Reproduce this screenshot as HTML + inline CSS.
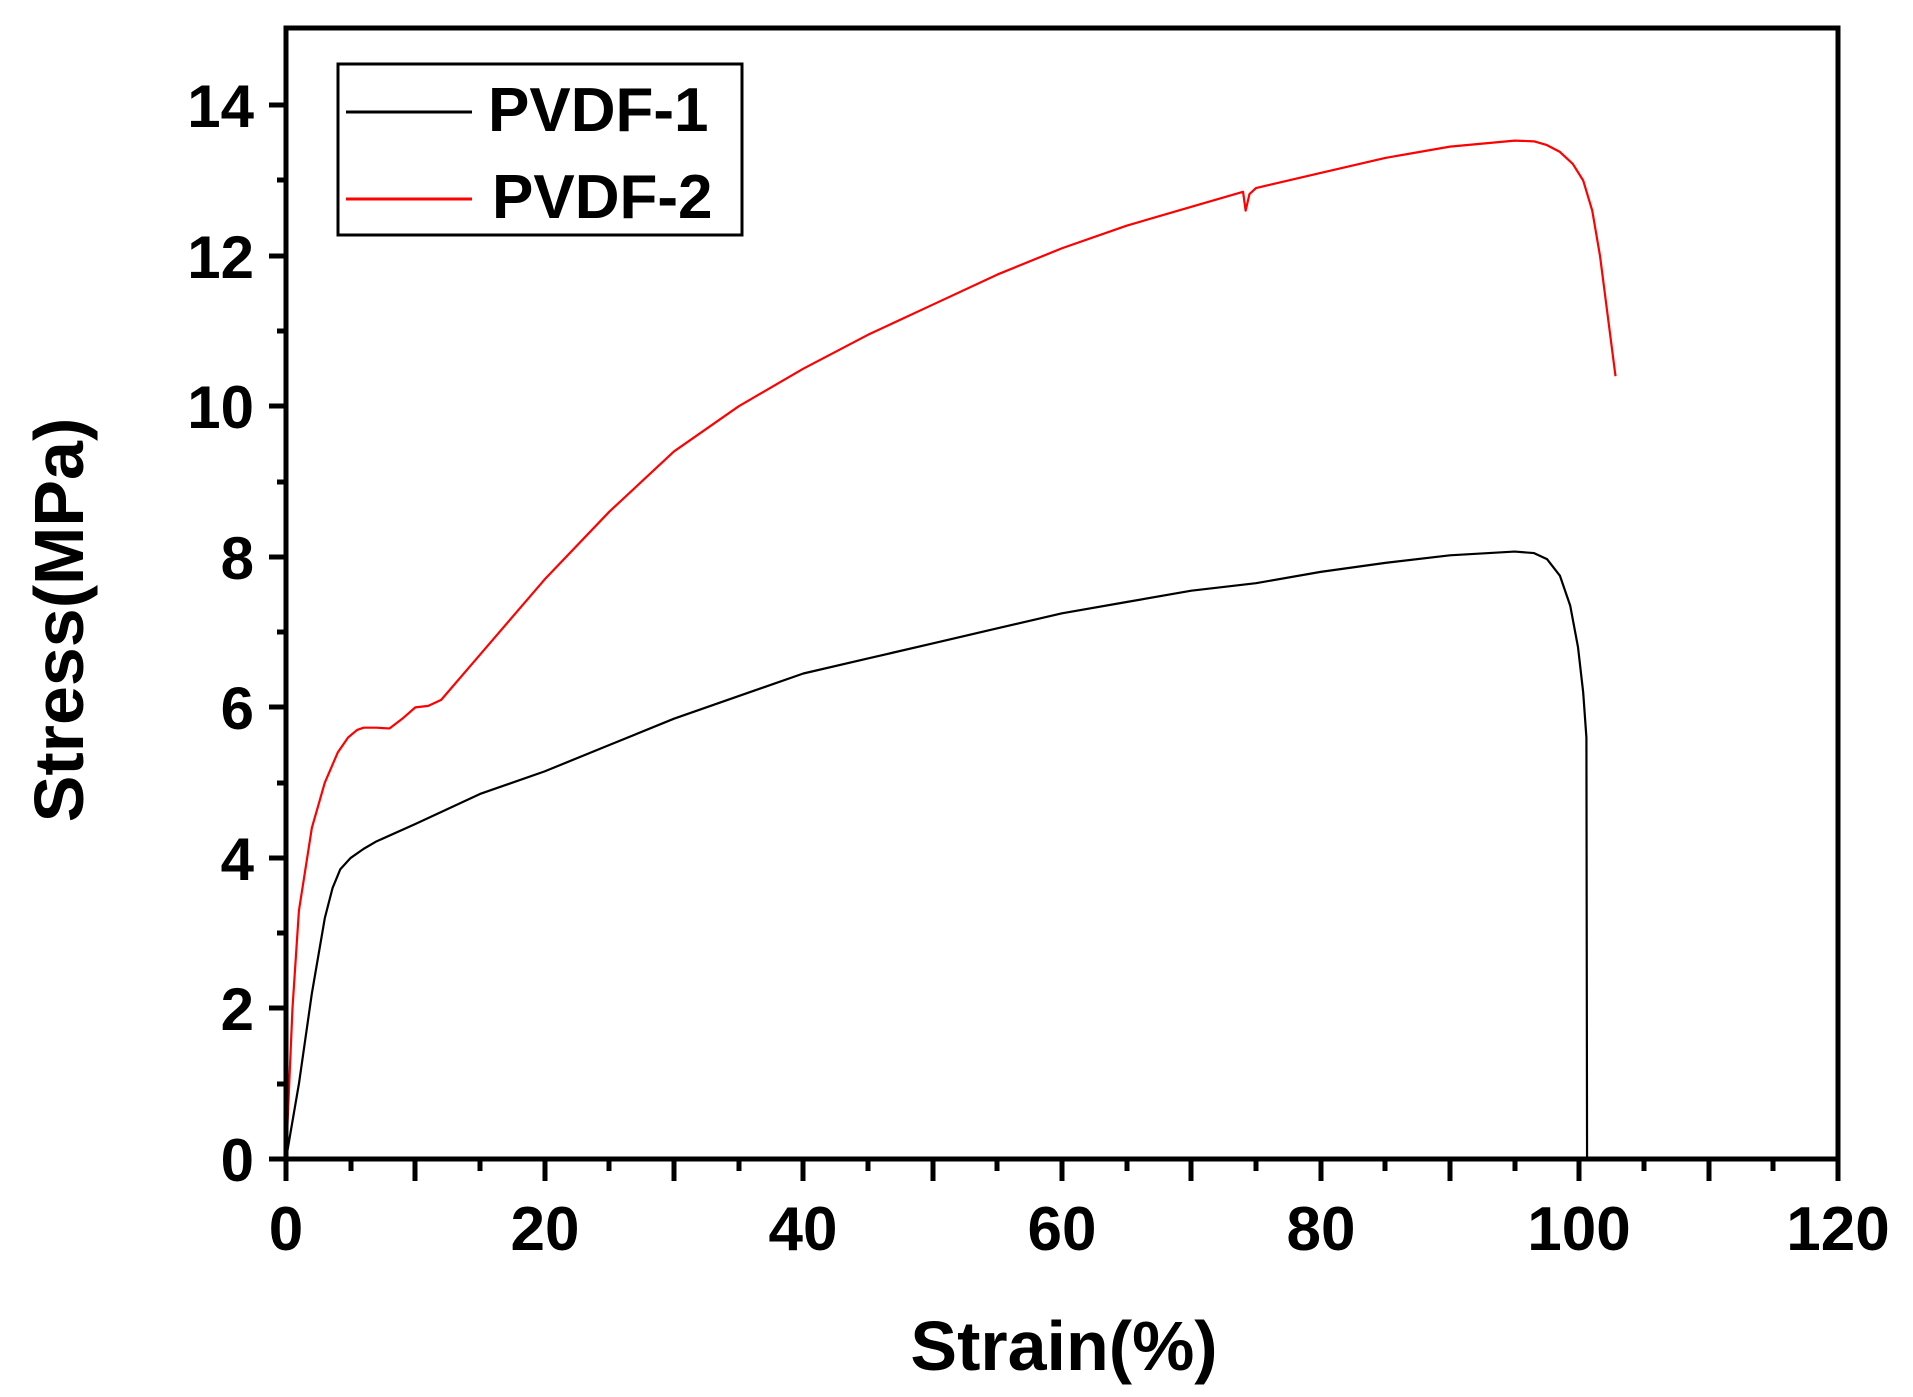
<!DOCTYPE html>
<html><head><style>
html,body{margin:0;padding:0;background:#fff;}
svg{display:block;}
text{font-family:"Liberation Sans",Arial,sans-serif;font-weight:bold;fill:#000;}
</style></head><body>
<svg width="1913" height="1397" viewBox="0 0 1913 1397" xmlns="http://www.w3.org/2000/svg">
<rect width="1913" height="1397" fill="#fff"/>
<g transform="translate(286,1159) scale(12.933,-75.27)">
<polyline fill="none" stroke="#000" stroke-width="2.2" vector-effect="non-scaling-stroke" stroke-linejoin="round" points="0,0 1,1 2,2.2 3,3.2 3.6,3.6 4.2,3.85 5,4.0 6,4.12 7,4.22 10,4.45 15,4.85 20,5.15 25,5.5 30,5.85 35,6.15 40,6.45 45,6.65 50,6.85 55,7.05 60,7.25 65,7.4 70,7.55 75,7.65 80,7.8 85,7.92 90,8.02 95,8.07 96.5,8.05 97.5,7.97 98.5,7.75 99.3,7.35 99.9,6.8 100.3,6.2 100.55,5.6 100.6,0"/>
<polyline fill="none" stroke="#f00" stroke-width="2.2" vector-effect="non-scaling-stroke" stroke-linejoin="round" points="0,0 0.5,2 1,3.3 2,4.4 3,5.0 4,5.4 4.8,5.6 5.5,5.7 6,5.73 7,5.73 8,5.72 9,5.85 10,6.0 11,6.02 12,6.1 15,6.7 20,7.7 25,8.6 30,9.4 35,10.0 40,10.5 45,10.95 50,11.35 55,11.75 60,12.1 65,12.4 70,12.65 74,12.85 74.2,12.6 74.5,12.82 75,12.9 80,13.1 85,13.3 90,13.45 95,13.53 96.5,13.52 97.5,13.47 98.5,13.38 99.5,13.22 100.3,13.0 101,12.6 101.6,12.0 102.2,11.2 102.8,10.4"/>
</g>
<rect x="286" y="28" width="1552" height="1131" fill="none" stroke="#000" stroke-width="5"/>
<g stroke="#000" stroke-width="5">
<line x1="286" y1="1159" x2="269" y2="1159"/><line x1="286" y1="1084" x2="277" y2="1084"/>
<line x1="286" y1="1008" x2="269" y2="1008"/><line x1="286" y1="933" x2="277" y2="933"/>
<line x1="286" y1="858" x2="269" y2="858"/><line x1="286" y1="783" x2="277" y2="783"/>
<line x1="286" y1="707" x2="269" y2="707"/><line x1="286" y1="632" x2="277" y2="632"/>
<line x1="286" y1="557" x2="269" y2="557"/><line x1="286" y1="482" x2="277" y2="482"/>
<line x1="286" y1="406" x2="269" y2="406"/><line x1="286" y1="331" x2="277" y2="331"/>
<line x1="286" y1="256" x2="269" y2="256"/><line x1="286" y1="180" x2="277" y2="180"/>
<line x1="286" y1="105" x2="269" y2="105"/>
<line x1="286" y1="1159" x2="286" y2="1181"/><line x1="351" y1="1159" x2="351" y2="1171"/>
<line x1="415" y1="1159" x2="415" y2="1181"/><line x1="480" y1="1159" x2="480" y2="1171"/>
<line x1="545" y1="1159" x2="545" y2="1181"/><line x1="609" y1="1159" x2="609" y2="1171"/>
<line x1="674" y1="1159" x2="674" y2="1181"/><line x1="739" y1="1159" x2="739" y2="1171"/>
<line x1="803" y1="1159" x2="803" y2="1181"/><line x1="868" y1="1159" x2="868" y2="1171"/>
<line x1="933" y1="1159" x2="933" y2="1181"/><line x1="997" y1="1159" x2="997" y2="1171"/>
<line x1="1062" y1="1159" x2="1062" y2="1181"/><line x1="1127" y1="1159" x2="1127" y2="1171"/>
<line x1="1191" y1="1159" x2="1191" y2="1181"/><line x1="1256" y1="1159" x2="1256" y2="1171"/>
<line x1="1321" y1="1159" x2="1321" y2="1181"/><line x1="1385" y1="1159" x2="1385" y2="1171"/>
<line x1="1450" y1="1159" x2="1450" y2="1181"/><line x1="1515" y1="1159" x2="1515" y2="1171"/>
<line x1="1579" y1="1159" x2="1579" y2="1181"/><line x1="1644" y1="1159" x2="1644" y2="1171"/>
<line x1="1709" y1="1159" x2="1709" y2="1181"/><line x1="1773" y1="1159" x2="1773" y2="1171"/>
<line x1="1838" y1="1159" x2="1838" y2="1181"/>
</g>
<g font-size="60" text-anchor="end">
<text x="254" y="1181">0</text><text x="254" y="1030">2</text><text x="254" y="880">4</text>
<text x="254" y="729">6</text><text x="254" y="579">8</text><text x="254" y="428">10</text>
<text x="254" y="278">12</text><text x="254" y="127">14</text>
</g>
<g font-size="62" text-anchor="middle">
<text x="286" y="1250">0</text><text x="545" y="1250">20</text><text x="803" y="1250">40</text>
<text x="1062" y="1250">60</text><text x="1321" y="1250">80</text><text x="1579" y="1250">100</text>
<text x="1838" y="1250">120</text>
</g>
<text x="1064" y="1370" font-size="70" text-anchor="middle">Strain(%)</text>
<text transform="translate(83,620) rotate(-90)" font-size="70" text-anchor="middle">Stress(MPa)</text>
<rect x="338" y="64" width="404" height="171" fill="#fff" stroke="#000" stroke-width="3"/>
<line x1="346" y1="112" x2="472" y2="112" stroke="#000" stroke-width="3"/>
<line x1="346" y1="199" x2="472" y2="199" stroke="#f00" stroke-width="3"/>
<text x="488" y="131" font-size="62">PVDF-1</text>
<text x="492" y="218" font-size="62">PVDF-2</text>
</svg>
</body></html>
